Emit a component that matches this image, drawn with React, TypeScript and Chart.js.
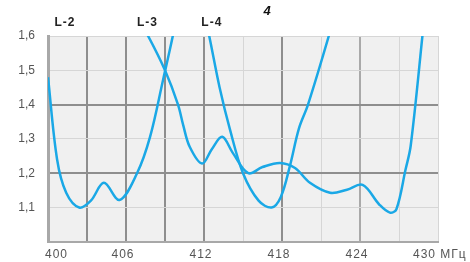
import React, { useEffect, useRef } from "react";
import { Chart, registerables } from "chart.js";

Chart.register(...registerables);

// Frequency (MHz) and VSWR values per curve
const l2Freq = [400, 400.7, 401.4, 402.4, 403.3, 404.3, 405.5, 406.85, 407.85, 408.85, 409.6, 410];
const l2Vswr = [1.48, 1.24, 1.143, 1.1, 1.12, 1.172, 1.122, 1.2, 1.306, 1.472, 1.6, 1.68];

const l3Freq = [406.2, 407.7, 409, 410, 410.4, 410.9, 411.85, 412.6, 413.4, 414.2, 415.4, 416.5, 417.85, 419, 420.15, 421.7, 423, 424.2, 425.5, 426.3, 426.8, 427.5, 427.9, 428.8, 429.1];
const l3Vswr = [1.7, 1.6, 1.5, 1.4, 1.34, 1.277, 1.228, 1.27, 1.306, 1.26, 1.2, 1.218, 1.23, 1.215, 1.172, 1.143, 1.152, 1.166, 1.108, 1.085, 1.095, 1.21, 1.28, 1.6, 1.72];

const l4Freq = [411.8, 412.4, 413.2, 414, 415, 416.2, 417.2, 417.9, 418.6, 419.3, 420.0, 421.6, 422.0];
const l4Vswr = [1.7, 1.6, 1.45, 1.327, 1.2, 1.12, 1.1, 1.13, 1.22, 1.33, 1.4, 1.6, 1.66];

const freqTicks = [400, 406, 412, 418, 424, 430];
const freqTickLabels = ["400", "406", "412", "418", "424", "430 МГц"];
const curveLabels = ["L-2", "L-3", "L-4"];
const curveLabelFreq = [401.3, 407.65, 412.6];
const titleFragment = "4";

const darkX = [403, 406, 409, 412, 418];
const midX = [424];
const darkY = [1.2, 1.4];

const LINE = "#1aa8e6";

const pts = (xs: number[], ys: number[]) => xs.map((x, i) => ({ x, y: ys[i] }));

export default function App() {
  const ref = useRef<HTMLCanvasElement | null>(null);
  useEffect(() => {
    document.body.style.margin = "0";
    const canvas = ref.current!;
    const near = (a: number, list: number[]) => list.some((v) => Math.abs(v - a) < 1e-6);

    const bgPlugin = {
      id: "bg",
      beforeDraw(chart: any) {
        const { ctx, chartArea: a } = chart;
        ctx.save();
        ctx.fillStyle = "#f0f0f0";
        ctx.fillRect(a.left, a.top, a.right - a.left, a.bottom - a.top);
        ctx.restore();
      },
      afterDraw(chart: any) {
        const { ctx, chartArea: a } = chart;
        const xs = chart.scales.x;
        ctx.save();
        ctx.textBaseline = "middle";
        ctx.font = '12px "Liberation Sans", Arial, sans-serif';
        ctx.fillStyle = "#555";
        (ctx as any).letterSpacing = "1px";
        freqTicks.forEach((v, i) => {
          const px = xs.getPixelForValue(v);
          if (i === 0) {
            ctx.textAlign = "left";
            ctx.fillText(freqTickLabels[i], px - 3, a.bottom + 13);
          } else if (i === freqTicks.length - 1) {
            ctx.textAlign = "left";
            ctx.fillText(freqTickLabels[i], px - 25, a.bottom + 13);
          } else {
            ctx.textAlign = "center";
            ctx.fillText(freqTickLabels[i], px - 3, a.bottom + 13);
          }
        });
        ctx.font = 'bold 12px "Liberation Sans", Arial, sans-serif';
        ctx.fillStyle = "#222";
        ctx.textAlign = "center";
        curveLabels.forEach((t, i) => {
          ctx.fillText(t, xs.getPixelForValue(curveLabelFreq[i]), a.top - 13);
        });
        (ctx as any).letterSpacing = "0px";
        ctx.font = 'bold italic 13px "Liberation Sans", Arial, sans-serif';
        ctx.fillStyle = "#111";
        ctx.textBaseline = "alphabetic";
        ctx.fillText(titleFragment, 267, 15);
        ctx.restore();
      },
    };

    const ds = (xs: number[], ys: number[]) => ({
      data: pts(xs, ys),
      borderColor: LINE,
      borderWidth: 2.5,
      pointRadius: 0,
      tension: 0.35,
      fill: false,
      clip: 0,
    });

    const chart = new Chart(canvas, {
      type: "line",
      data: {
        datasets: [ds(l2Freq, l2Vswr), ds(l3Freq, l3Vswr), ds(l4Freq, l4Vswr)],
      },
      plugins: [bgPlugin],
      options: {
        animation: false,
        responsive: false,
        events: [],
        layout: { autoPadding: false, padding: { left: 0, right: 32, top: 36, bottom: 0 } },
        plugins: { legend: { display: false }, tooltip: { enabled: false }, title: { display: false } },
        scales: {
          x: {
            type: "linear",
            min: 400,
            max: 430,
            afterFit: (s: any) => {
              s.height = 20;
            },
            ticks: { stepSize: 3, display: false },
            grid: {
              drawTicks: false,
              color: (c: any) => {
                const v = c.tick?.value;
                if (near(v, darkX)) return "#8e8e8e";
                if (near(v, midX)) return "#a9a9a9";
                return "#d6d6d6";
              },
              lineWidth: (c: any) => {
                const v = c.tick?.value;
                return near(v, darkX) || near(v, midX) ? 2 : 1;
              },
            },
            border: { color: "#a8a8a8", width: 2 },
          },
          y: {
            min: 1.0,
            max: 1.6,
            afterFit: (s: any) => {
              s.width = 48;
            },
            ticks: {
              stepSize: 0.1,
              padding: 13,
              color: "#555",
              font: { family: '"Liberation Sans", Arial, sans-serif', size: 12 },
              callback: (v: any) => (Math.abs(v - 1) < 1e-6 ? "" : Number(v).toFixed(1).replace(".", ",")),
            },
            grid: {
              drawTicks: false,
              color: (c: any) => (near(c.tick?.value, darkY) ? "#8e8e8e" : "#d6d6d6"),
              lineWidth: (c: any) => (near(c.tick?.value, darkY) ? 2 : 1),
            },
            border: { color: "#a8a8a8", width: 3 },
          },
        },
      },
    } as any);
    return () => chart.destroy();
  }, []);
  return (
    <div style={{ width: 470, height: 262 }}>
      <canvas ref={ref} width={470} height={262} style={{ display: "block" }} />
    </div>
  );
}
